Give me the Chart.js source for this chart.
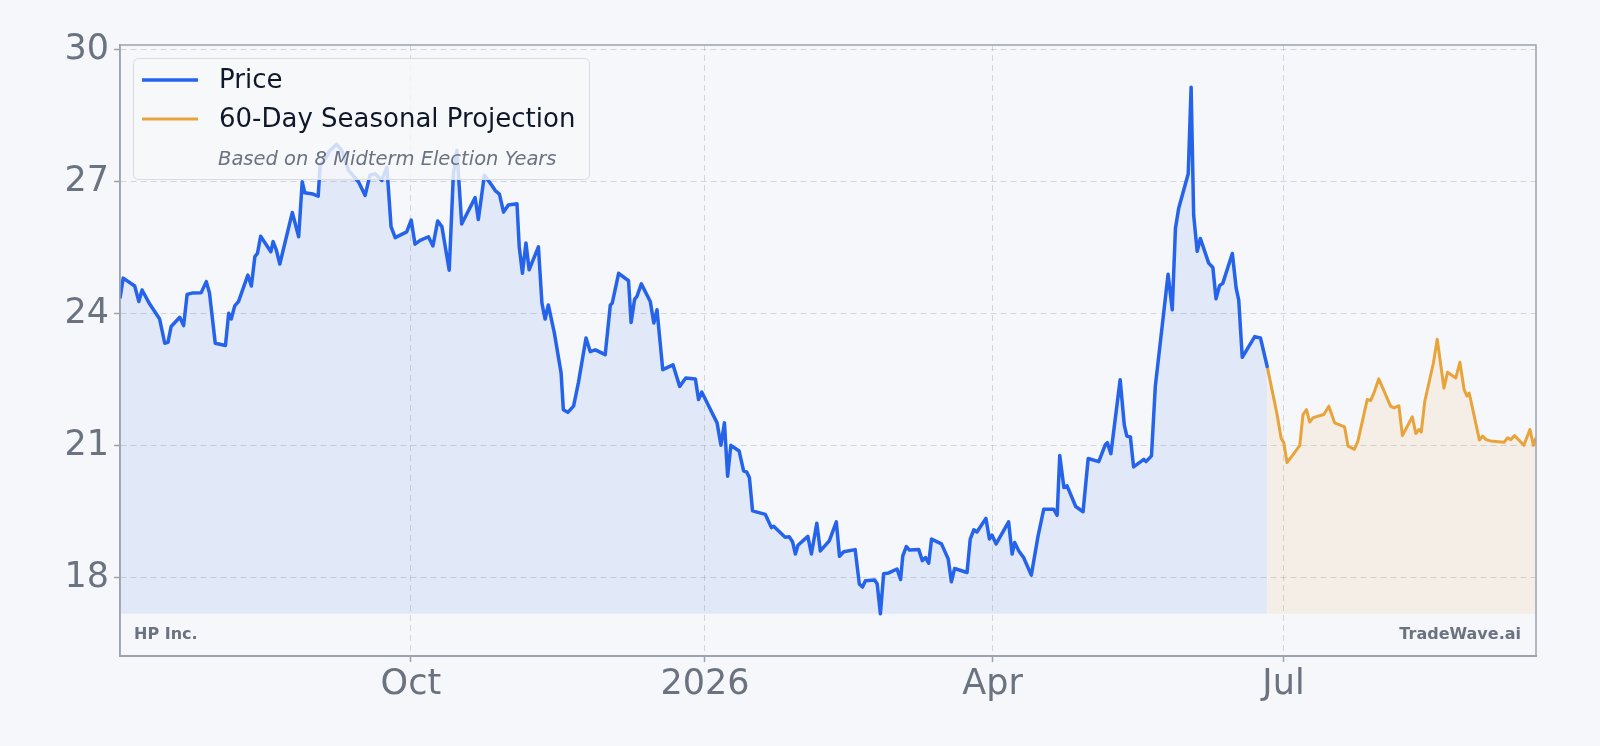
<!DOCTYPE html>
<html>
<head>
<meta charset="utf-8">
<script src="https://cdn.jsdelivr.net/npm/chart.js@4.4.1/dist/chart.umd.min.js"></script>
<style>
  html, body { margin: 0; padding: 0; background: #f5f7fa; }
  #wrap { width: 1600px; height: 746px; }
</style>
</head>
<body>
<div id="wrap"><canvas id="chart" width="1600" height="746"></canvas></div>
<script>
// x values are days counted from startDate
const startDate = '2025-07-01';

const priceDays = [
  1, 2, 5.6, 6.9, 7.9, 10.3, 13.4, 15, 16, 17,
  19.7, 20.9, 22, 23.5, 26.4, 28, 29, 30.8, 34, 35,
  35.8, 36.9, 38.1, 41, 42.1, 43.2, 44, 45, 48.2, 48.9,
  49.9, 51, 54.9, 56.9, 58, 58.8, 61.4, 63, 63.6, 65.5,
  66.5, 68.8, 70.4, 72.5, 75.6, 77.7, 79.2, 80.8, 82.9, 84.5,
  85.8, 87.1, 90.7, 92.1, 93.3, 94.9, 97.5, 98.9, 100.4, 101.7,
  104, 105.3, 106.4, 107.9, 112.1, 113.1, 115, 117.3, 118.4, 119.7,
  121, 122.5, 125.2, 125.9, 126.9, 128, 129, 131.9, 133, 134,
  135, 136.9, 139, 139.7, 141.1, 142.9, 144.4, 146.8, 148.1, 149.7,
  152.8, 154.4, 155, 157, 160.1, 160.9, 162, 162.7, 164.1, 166.9,
  168, 169, 170.8, 174, 176.1, 178, 181, 182, 183, 187.8,
  189, 190.1, 191.1, 192.1, 194.7, 196.1, 197.1, 197.9, 198.9, 202.9,
  204.8, 205.5, 209.1, 210.4, 211.4, 212.3, 213.1, 216.2, 217.3, 219,
  220.1, 222.9, 225.1, 226.1, 227.4, 231, 232.3, 233.3, 234.2, 237.1,
  237.9, 238.9, 239.9, 241.5, 244.1, 245.2, 245.9, 247, 248, 250.9,
  252, 253, 254, 254.9, 258, 260.1, 261.1, 262.1, 266, 267,
  268.1, 269.1, 271.9, 273, 273.8, 275.1, 279, 280.1, 280.9, 282.2,
  283.7, 286.1, 288.2, 290, 293.1, 294.2, 295, 296.3, 297.3, 300,
  302.3, 303.9, 307.2, 309.3, 309.9, 311, 313.9, 315.2, 316, 317.1,
  318.1, 321.3, 322, 323.7, 324.9, 326.5, 328.9, 330.2, 331.2, 332.2,
  335.2, 336.1, 336.9, 338, 339, 341.6, 342.9, 343.9, 345, 346,
  349, 350.2, 351, 352.1, 356, 357.8, 360
];
const priceValues = [
  24.35, 24.81, 24.63, 24.28, 24.54, 24.22, 23.88, 23.33, 23.35, 23.71,
  23.92, 23.73, 24.44, 24.47, 24.48, 24.73, 24.47, 23.33, 23.28, 24.01,
  23.88, 24.18, 24.28, 24.88, 24.63, 25.30, 25.37, 25.76, 25.41, 25.64,
  25.45, 25.13, 26.30, 25.75, 27.00, 26.75, 26.72, 26.67, 27.37, 27.55,
  27.70, 27.85, 27.71, 27.26, 27.00, 26.69, 27.15, 27.18, 27.03, 27.33,
  25.98, 25.73, 25.86, 26.13, 25.58, 25.67, 25.75, 25.54, 26.11, 25.98,
  24.99, 27.18, 27.71, 26.04, 26.64, 26.14, 27.15, 26.92, 26.80, 26.72,
  26.31, 26.47, 26.50, 25.52, 24.92, 25.61, 25.00, 25.52, 24.24, 23.88,
  24.20, 23.56, 22.65, 21.82, 21.76, 21.90, 22.43, 23.45, 23.14, 23.18,
  23.07, 24.20, 24.24, 24.92, 24.75, 23.80, 24.33, 24.39, 24.68, 24.28,
  23.79, 24.09, 22.73, 22.84, 22.35, 22.54, 22.52, 22.05, 22.22, 21.52,
  21.01, 21.52, 20.31, 21.01, 20.88, 20.43, 20.40, 20.28, 19.52, 19.44,
  19.14, 19.17, 18.92, 18.93, 18.82, 18.54, 18.74, 18.94, 18.54, 19.24,
  18.61, 18.84, 19.27, 18.49, 18.59, 18.64, 17.86, 17.79, 17.93, 17.95,
  17.86, 17.18, 18.09, 18.11, 18.20, 17.96, 18.50, 18.71, 18.63, 18.64,
  18.39, 18.46, 18.33, 18.88, 18.77, 18.43, 17.91, 18.21, 18.12, 18.88,
  19.09, 19.04, 19.35, 18.88, 18.97, 18.77, 19.27, 18.54, 18.80, 18.61,
  18.46, 18.06, 18.94, 19.56, 19.56, 19.42, 20.78, 20.05, 20.09, 19.62,
  19.50, 20.71, 20.64, 21.03, 21.07, 20.82, 22.50, 21.47, 21.22, 21.20,
  20.52, 20.69, 20.64, 20.77, 22.35, 23.37, 24.90, 24.09, 25.94, 26.39,
  27.18, 29.15, 26.24, 25.42, 25.71, 25.15, 25.05, 24.34, 24.64, 24.69,
  25.37, 24.58, 24.31, 23.01, 23.48, 23.45, 22.77
];

const projDays = [
  360, 363, 364.3, 365.1, 366.1, 367.7, 370.1, 371.1, 372.2, 373.2,
  374.3, 377.6, 379.2, 381, 384.1, 385.2, 387.2, 388.3, 391.2, 392.3,
  393.3, 394.8, 398.5, 399.6, 401.1, 402.2, 405.3, 406.4, 407.4, 408.1,
  409.2, 411.9, 413.1, 415.2, 416.3, 418.9, 420.2, 421.5, 422.4, 423.1,
  426.3, 427.3, 428.4, 429.8, 434, 435.1, 436.1, 437.3, 440.2, 442.1,
  443.2, 444
];
const projValues = [
  22.77, 21.71, 21.16, 21.07, 20.62, 20.77, 21.01, 21.71, 21.82, 21.54,
  21.64, 21.71, 21.90, 21.52, 21.43, 20.99, 20.92, 21.11, 22.05, 22.03,
  22.20, 22.52, 21.90, 21.86, 21.91, 21.23, 21.66, 21.28, 21.37, 21.31,
  22.01, 22.88, 23.42, 22.31, 22.67, 22.54, 22.90, 22.28, 22.13, 22.20,
  21.13, 21.22, 21.14, 21.11, 21.08, 21.18, 21.14, 21.23, 21.01, 21.37,
  21.01, 21.18
];

const tickDates = ['2025-10-01', '2026-01-01', '2026-04-01', '2026-07-01'];
const tickLabels = ['Oct', '2026', 'Apr', 'Jul'];
const yTicks = [18, 21, 24, 27, 30];

const BLUE = '#2563eb';
const ORANGE = '#e8a33a';
const GREY = '#6b7280';
const FONT = '"DejaVu Sans", sans-serif';

const dayOf = s => (Date.parse(s) - Date.parse(startDate)) / 864e5;
const tickDays = tickDates.map(dayOf);

const allValues = priceValues.concat(projValues);
const lo = Math.min(...allValues);
const hi = Math.max(...allValues);
const pad = (hi - lo) * 0.08;

const toPoints = (xs, ys) => xs.map((x, i) => ({ x: x, y: ys[i] }));

const frame = {
  id: 'frame',
  beforeDraw(chart) {
    const { ctx, width, height } = chart;
    ctx.save();
    ctx.fillStyle = '#f5f7fa';
    ctx.fillRect(0, 0, width, height);
    ctx.restore();
  },
  afterDraw(chart) {
    const { ctx, chartArea: a } = chart;
    ctx.save();
    ctx.strokeStyle = '#9ca3af';
    ctx.lineWidth = 1.5;
    ctx.strokeRect(a.left, a.top, a.right - a.left, a.bottom - a.top);

    // legend
    ctx.beginPath();
    ctx.roundRect(133.5, 58.5, 456, 121, 5);
    ctx.fillStyle = 'rgba(247,248,250,0.82)';
    ctx.fill();
    ctx.strokeStyle = '#d7dbe2';
    ctx.lineWidth = 1;
    ctx.stroke();

    ctx.lineCap = 'butt';
    ctx.strokeStyle = BLUE;
    ctx.lineWidth = 3.5;
    ctx.beginPath(); ctx.moveTo(142, 80); ctx.lineTo(198, 80); ctx.stroke();
    ctx.strokeStyle = ORANGE;
    ctx.lineWidth = 3;
    ctx.beginPath(); ctx.moveTo(142, 119); ctx.lineTo(198, 119); ctx.stroke();

    ctx.textBaseline = 'middle';
    ctx.textAlign = 'left';
    ctx.fillStyle = '#0f172a';
    ctx.font = '26px ' + FONT;
    ctx.fillText('Price', 219, 81);
    ctx.fillText('60-Day Seasonal Projection', 219, 120);
    ctx.fillStyle = GREY;
    ctx.font = 'italic 19.5px ' + FONT;
    ctx.fillText('Based on 8 Midterm Election Years', 218, 160);

    // watermarks
    ctx.font = 'bold 16px ' + FONT;
    ctx.fillText('HP Inc.', 134, 635);
    ctx.textAlign = 'right';
    ctx.fillText('TradeWave.ai', 1521, 635);
    ctx.restore();
  }
};

new Chart(document.getElementById('chart'), {
  type: 'line',
  data: {
    datasets: [
      {
        label: 'Price',
        data: toPoints(priceDays, priceValues),
        borderColor: BLUE,
        borderWidth: 3.5,
        backgroundColor: 'rgba(37,99,235,0.09)',
        fill: { value: lo },
        pointRadius: 0,
        tension: 0,
        borderJoinStyle: 'round',
      },
      {
        label: '60-Day Seasonal Projection',
        data: toPoints(projDays, projValues),
        borderColor: ORANGE,
        borderWidth: 3,
        backgroundColor: 'rgba(232,163,58,0.1)',
        fill: { value: lo },
        pointRadius: 0,
        tension: 0,
        borderJoinStyle: 'round',
      },
    ],
  },
  options: {
    responsive: false,
    animation: false,
    devicePixelRatio: 1,
    layout: { padding: { top: 45, right: 64, left: 0, bottom: 0 } },
    plugins: {
      legend: { display: false },
      tooltip: { enabled: false },
    },
    scales: {
      x: {
        type: 'linear',
        min: priceDays[0],
        max: projDays[projDays.length - 1],
        afterBuildTicks: s => { s.ticks = tickDays.map(v => ({ value: v })); },
        afterFit: s => { s.height = 90; },
        ticks: {
          callback: v => tickLabels[tickDays.indexOf(v)],
          font: { family: FONT, size: 35 },
          color: GREY,
          padding: 2,
          maxRotation: 0,
        },
        grid: {
          color: 'rgba(156,163,175,0.4)',
          lineWidth: 1,
          tickLength: 6,
          tickColor: '#9ca3af',
          tickWidth: 1.5,
          tickBorderDash: [],
        },
        border: { display: true, color: '#9ca3af', width: 2, dash: [6, 4] },
      },
      y: {
        min: lo - pad,
        max: hi + pad,
        afterBuildTicks: s => { s.ticks = yTicks.map(v => ({ value: v })); },
        afterFit: s => { s.width = 120; },
        ticks: {
          font: { family: FONT, size: 35 },
          color: GREY,
          padding: 5,
        },
        grid: {
          color: 'rgba(156,163,175,0.4)',
          lineWidth: 1,
          tickLength: 6,
          tickColor: '#9ca3af',
          tickWidth: 1.5,
          tickBorderDash: [],
        },
        border: { display: true, color: '#9ca3af', width: 1.5, dash: [6, 4] },
      },
    },
  },
  plugins: [frame],
});
</script>
</body>
</html>
